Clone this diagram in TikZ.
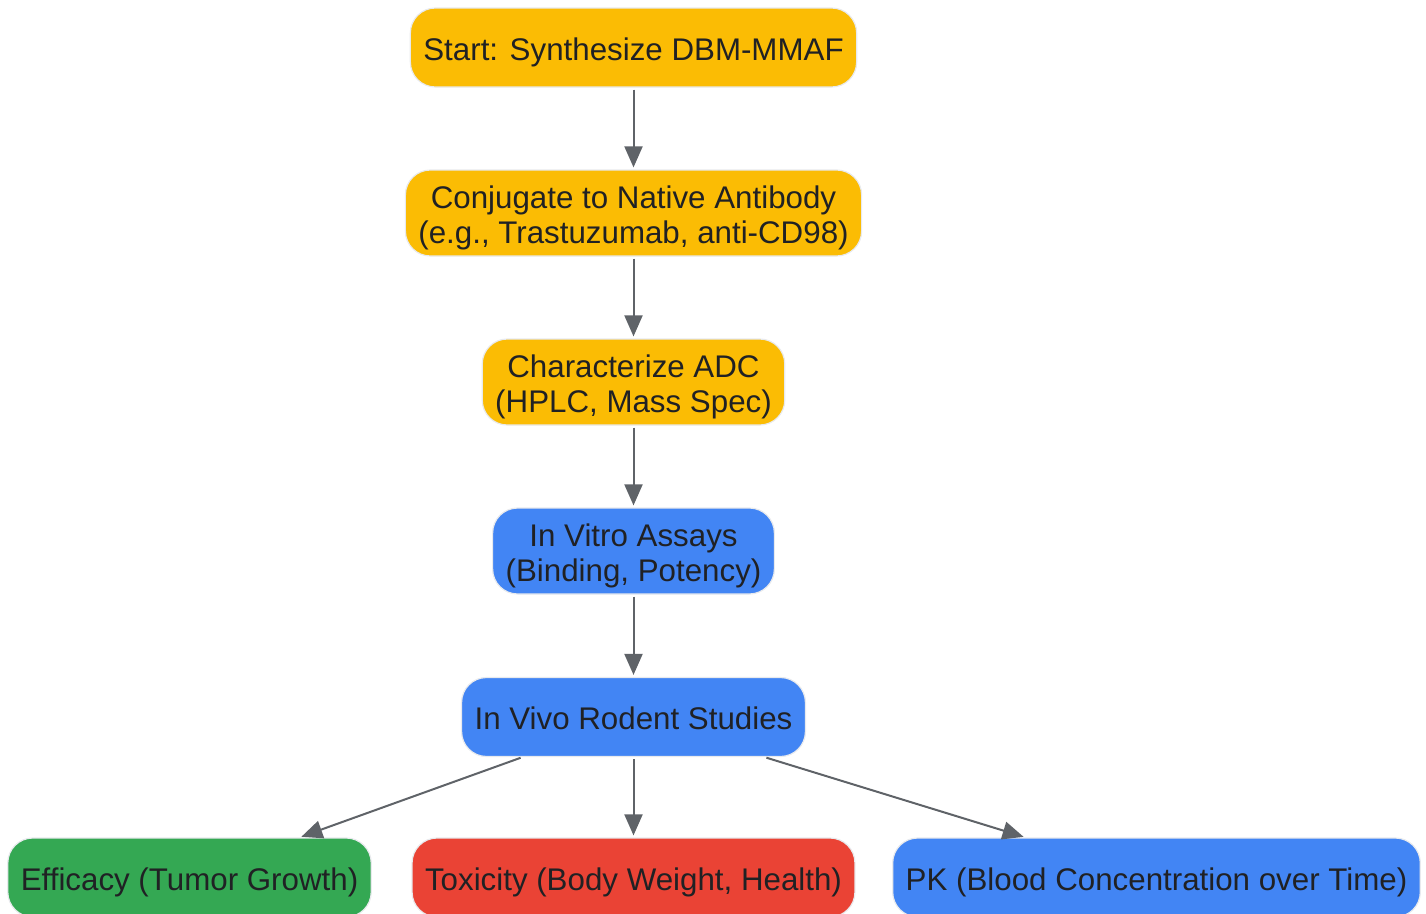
\documentclass[tikz,border=0pt]{standalone}
\usepackage{fontspec}
\setmainfont{Liberation Sans}
\usetikzlibrary{arrows.meta,positioning}
\definecolor{gyellow}{HTML}{FBBC04}
\definecolor{gblue}{HTML}{4285F4}
\definecolor{ggreen}{HTML}{34A853}
\definecolor{gred}{HTML}{EA4335}
\definecolor{gtext}{HTML}{202124}
\definecolor{gline}{HTML}{5F6368}
\definecolor{gborder}{HTML}{E8EAED}
\tikzset{stepbox/.style = {rectangle, rounded corners = 25pt, draw = gborder, line width = 1.2pt,
		minimum height = 79pt, inner xsep = 13pt, inner ysep = 6pt, align = center, text = gtext,
		font = \fontsize{31.3}{35}\selectfont, text height = 32pt, text depth = 7pt},
	twoline/.style = {text height = 67pt},
	prep/.style = {stepbox, fill = gyellow},
	assay/.style = {stepbox, fill = gblue},
	flow/.style = {-{Triangle[length=21pt, width=18pt]}, line width = 2pt, draw = gline, shorten <=2pt, shorten >=2pt}}

\begin{document}
\begin{tikzpicture}[x=1pt, y=-1pt]
 \useasboundingbox (0,0) rectangle (1426,913);

 \node (start) at (633.5,47.5) [prep] {Start: Synthesize DBM-MMAF};
 \node (conjugate) at (633.5,213) [prep, twoline] {Conjugate to Native Antibody\\(e.g., Trastuzumab, anti-CD98)};
 \node (characterize) at (633.5,382) [prep, twoline] {Characterize ADC\\(HPLC, Mass Spec)};
 \node (invitro) at (633.5,551) [assay, twoline] {In Vitro Assays\\(Binding, Potency)};
 \node (invivo) at (633.5,717) [assay] {In Vivo Rodent Studies};

 \node (efficacy) at (189.5,877.5) [stepbox, fill = ggreen] {Efficacy (Tumor Growth)};
 \node (toxicity) at (633.5,877.5) [stepbox, fill = gred] {Toxicity (Body Weight, Health)};
 \node (pk) at (1156.5,877.5) [assay] {PK (Blood Concentration over Time)};

 \draw [flow] (start) -- (conjugate);
 \draw [flow] (conjugate) -- (characterize);
 \draw [flow] (characterize) -- (invitro);
 \draw [flow] (invitro) -- (invivo);
 \draw [flow] ([xshift=-111pt]invivo.south) -- ([xshift=110pt]efficacy.north);
 \draw [flow] (invivo) -- (toxicity);
 \draw [flow] ([xshift=131pt]invivo.south) -- ([xshift=-131pt]pk.north);

\end{tikzpicture}
\end{document}
